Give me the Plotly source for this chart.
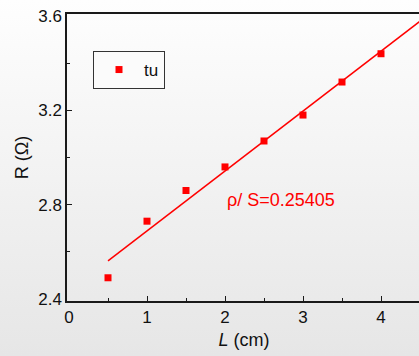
import base64
import numpy as np
import plotly.graph_objects as go

# Data
L_cm = [0.5, 1.0, 1.5, 2.0, 2.5, 3.0, 3.5, 4.0]
R_ohm = [2.49, 2.73, 2.86, 2.96, 3.07, 3.18, 3.32, 3.44]
fit_x_range = [0.5, 4.6]
x_tick_vals = [0, 1, 2, 3, 4]
y_tick_vals = [2.4, 2.8, 3.2, 3.6]
fit_label = "ρ/ S=0.25405"

slope, intercept = np.polyfit(L_cm, R_ohm, 1)
fit_x = np.array(fit_x_range)
fit_y = slope * fit_x + intercept

W, H = 419, 356
ml, mr, mt, mb = 69, 0, 16, 57
pw, ph = W - ml - mr, H - mt - mb

svg = (f'<svg xmlns="http://www.w3.org/2000/svg" width="{W}" height="{H}" preserveAspectRatio="none">'
       '<defs><linearGradient id="g" x1="0" y1="0" x2="0" y2="1">'
       '<stop offset="0" stop-color="#fefefe"/><stop offset="1" stop-color="#e6e6e6"/>'
       '</linearGradient></defs>'
       f'<rect width="{W}" height="{H}" fill="url(#g)"/></svg>')
src = "data:image/svg+xml;base64," + base64.b64encode(svg.encode()).decode()

fig = go.Figure()
fig.add_trace(go.Scatter(x=fit_x, y=fit_y, mode="lines",
                         line=dict(color="#ff0000", width=1.5), showlegend=False))
fig.add_trace(go.Scatter(x=L_cm, y=R_ohm, mode="markers", name="tu",
                         marker=dict(symbol="square", color="#ff0000", size=7)))

fig.add_annotation(x=2.72, y=2.82, text=fit_label, showarrow=False,
                   font=dict(family="Arial", size=18, color="#ff0000"))

fig.add_layout_image(dict(source=src, xref="paper", yref="paper",
                          x=-ml / pw, y=1 + mt / ph, sizex=W / pw, sizey=H / ph,
                          xanchor="left", yanchor="top", sizing="stretch", layer="below"))

axis_common = dict(showline=True, linecolor="#1a1a1a", linewidth=1.5, ticks="inside",
                   ticklen=5, tickwidth=1, tickcolor="#1a1a1a", showgrid=False, zeroline=False,
                   tickfont=dict(family="Arial", size=17, color="#111"))

fig.update_xaxes(range=[0, pw / 78], tickvals=x_tick_vals, mirror=True,
                 minor=dict(ticks="inside", ticklen=3, dtick=0.5, tick0=0, tickcolor="#1a1a1a"),
                 title=dict(text="<i>L</i> (cm)", font=dict(family="Arial", size=18, color="#111"),
                            standoff=9),
                 **axis_common)
fig.update_yaxes(range=[2.4, 3.6], tickvals=y_tick_vals, tickformat=".1f",
                 minor=dict(ticks="inside", ticklen=3, dtick=0.2, tick0=2.4, tickcolor="#1a1a1a"),
                 title=dict(text="R (Ω)", font=dict(family="Arial", size=18, color="#111"),
                            standoff=7),
                 **axis_common)

fig.update_layout(
    width=W, height=H,
    margin=dict(l=ml, r=mr, t=mt, b=mb, pad=2),
    paper_bgcolor="rgba(0,0,0,0)", plot_bgcolor="rgba(0,0,0,0)",
    font=dict(family="Arial", size=17, color="#111"),
    legend=dict(x=(93 - ml) / pw, y=1 - (51 - mt) / ph, xanchor="left", yanchor="top",
                bgcolor="#fbfbfb", bordercolor="#333", borderwidth=1,
                font=dict(family="Arial", size=17, color="#111"),
                itemwidth=40, tracegroupgap=0),
)

fig.write_html("out.html")
